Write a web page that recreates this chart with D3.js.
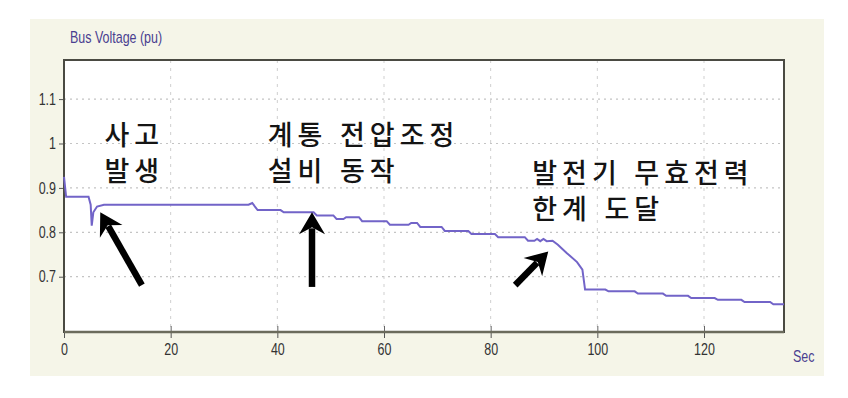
<!DOCTYPE html>
<html lang="ko">
<head>
<meta charset="UTF-8">
<title>Bus Voltage (pu)</title>
<script src="https://d3js.org/d3.v7.min.js"></script>
<style>
    body { margin: 0; background: #ffffff; }
    .tick text, .lbl {
        font-family: "Liberation Sans", Arial, sans-serif;
        transform-box: fill-box;
        transform: scaleX(0.78);
    }
    .lbl { transform-origin: left center; }
    .tick text { transform-origin: center center; }
    .yax .tick text { transform-origin: right center; }
    .note { font-family: "Noto Sans CJK KR", sans-serif; fill: #141414; font-weight: 500; }
</style>
</head>
<body>
<svg width="848" height="398"></svg>
<script>
// series: time (s) and bus voltage (pu)
const timeSec = [0, 0.4, 4.6, 5.0, 5.2, 5.5, 6.2, 7.5, 34.6, 35.3, 36.3, 40.6, 41.2, 46.8, 47.4, 50.5,
    51.1, 52.4, 52.9, 55.3, 55.9, 60.5, 61.1, 64.6, 65.1, 66.2, 66.8, 70.8, 71.4, 75.8, 76.4, 80.8,
    81.4, 86.4, 87.0, 88.2, 88.7, 89.3, 89.9, 90.5, 91.6, 92.6, 94.3, 96.2, 97.2, 97.7, 101.5, 102.1,
    107, 107.6, 112.3, 112.9, 117, 117.6, 122, 122.6, 127, 127.6, 132.4, 133, 135];
const busVoltage = [0.925, 0.88, 0.88, 0.862, 0.815, 0.845, 0.858, 0.862, 0.862, 0.866, 0.85, 0.85, 0.845, 0.845, 0.838, 0.838,
    0.830, 0.830, 0.834, 0.834, 0.825, 0.825, 0.817, 0.817, 0.821, 0.821, 0.812, 0.812, 0.803, 0.803, 0.796, 0.796,
    0.789, 0.789, 0.781, 0.781, 0.785, 0.780, 0.785, 0.780, 0.781, 0.772, 0.753, 0.733, 0.716, 0.671, 0.671, 0.667,
    0.667, 0.662, 0.662, 0.657, 0.657, 0.652, 0.652, 0.648, 0.648, 0.643, 0.643, 0.638, 0.638];

const xTicks = [0, 20, 40, 60, 80, 100, 120];
const yTicks = [0.7, 0.8, 0.9, 1.0, 1.1];
const yTickLabels = ["0.7", "0.8", "0.9", "1", "1.1"];

// annotations: text lines and arrows (tail -> tip), in data units
const noteLines = [
    { t: 7.6, v: 0.997, text: "사고" },
    { t: 7.6, v: 0.915, text: "발생" },
    { t: 38.2, v: 0.997, text: "계통 전압조정" },
    { t: 38.2, v: 0.915, text: "설비 동작" },
    { t: 87.8, v: 0.91, text: "발전기 무효전력" },
    { t: 87.8, v: 0.83, text: "한계 도달" }
];
const arrows = [
    { t0: 14.6, v0: 0.681, t1: 6.8, v1: 0.845 },
    { t0: 46.5, v0: 0.677, t1: 46.5, v1: 0.845 },
    { t0: 84.6, v0: 0.681, t1: 90.8, v1: 0.757 }
];

const svg = d3.select("svg");
const plot = { left: 64, right: 784, top: 60, bottom: 332 };

// beige panel
svg.append("rect").attr("x", 30).attr("y", 19).attr("width", 794).attr("height", 357).attr("fill", "#f5f5e8");
svg.append("rect").attr("x", plot.left).attr("y", plot.top)
    .attr("width", plot.right - plot.left).attr("height", plot.bottom - plot.top).attr("fill", "#ffffff");

const x = d3.scaleLinear().domain([0, 135]).range([plot.left, plot.right]);
const y = d3.scaleLinear().domain([0.5755, 1.188]).range([plot.bottom, plot.top]);

// grid
svg.append("g").selectAll("line").data(yTicks).join("line")
    .attr("x1", plot.left).attr("x2", plot.right)
    .attr("y1", d => y(d)).attr("y2", d => y(d))
    .attr("stroke", "#c4c4c4").attr("stroke-width", 1.2).attr("stroke-dasharray", "2,4");
svg.append("g").selectAll("line").data(xTicks.slice(1)).join("line")
    .attr("x1", d => x(d)).attr("x2", d => x(d))
    .attr("y1", plot.top).attr("y2", plot.bottom)
    .attr("stroke", "#cfcfcf").attr("stroke-width", 1).attr("stroke-dasharray", "3,5");

// axes
const yAxis = svg.append("g").attr("class", "yax").attr("transform", `translate(${plot.left},0)`)
    .call(d3.axisLeft(y).tickValues(yTicks).tickFormat((d, i) => yTickLabels[i]).tickSize(5).tickPadding(3));
const xAxis = svg.append("g").attr("transform", `translate(0,${plot.bottom})`)
    .call(d3.axisBottom(x).tickValues(xTicks).tickFormat(d3.format("d")).tickSize(6).tickPadding(6));
[yAxis, xAxis].forEach(a => {
    a.select(".domain").remove();
    a.selectAll(".tick line").attr("stroke", "#555");
    a.selectAll(".tick text").attr("fill", "#333").style("font-size", "16px");
});
xAxis.selectAll(".tick").append("line").attr("y1", 0).attr("y2", -6).attr("stroke", "#666");

// frame
svg.append("rect").attr("x", plot.left).attr("y", plot.top)
    .attr("width", plot.right - plot.left).attr("height", plot.bottom - plot.top)
    .attr("fill", "none").attr("stroke", "#4a4a42").attr("stroke-width", 2);
svg.append("line").attr("x1", plot.left).attr("x2", plot.right)
    .attr("y1", plot.bottom).attr("y2", plot.bottom).attr("stroke", "#6b6b5c").attr("stroke-width", 2.5);

// line
const pts = timeSec.map((t, i) => [t, busVoltage[i]]);
svg.append("path").datum(pts)
    .attr("fill", "none").attr("stroke", "#7264c8").attr("stroke-width", 2)
    .attr("d", d3.line().x(d => x(d[0])).y(d => y(d[1])));

// labels
svg.append("text").attr("class", "lbl").attr("x", 70).attr("y", 43)
    .attr("fill", "#4a3f90").style("font-size", "16px").text("Bus Voltage (pu)");
svg.append("text").attr("class", "lbl").attr("x", 793).attr("y", 362)
    .attr("fill", "#4a3f90").style("font-size", "16px").text("Sec");

// annotations
svg.append("g").selectAll("text").data(noteLines).join("text")
    .attr("class", "note").attr("x", d => x(d.t)).attr("y", d => y(d.v))
    .style("font-size", "27px").style("letter-spacing", "5px").text(d => d.text);

arrows.forEach(a => {
    const x0 = x(a.t0), y0 = y(a.v0), x1 = x(a.t1), y1 = y(a.v1);
    const ang = Math.atan2(y1 - y0, x1 - x0);
    const c = Math.cos(ang), s = Math.sin(ang);
    const hl = 22, hw = 13, notch = 7;
    const bx = x1 - hl * c, by = y1 - hl * s;
    const px = -s, py = c;
    svg.append("line").attr("x1", x0).attr("y1", y0).attr("x2", bx + 6 * c).attr("y2", by + 6 * s)
        .attr("stroke", "#000").attr("stroke-width", 6.5);
    svg.append("path").attr("fill", "#000")
        .attr("d", `M${x1},${y1}L${bx + hw * px},${by + hw * py}L${bx + notch * c},${by + notch * s}L${bx - hw * px},${by - hw * py}Z`);
});
</script>
</body>
</html>
